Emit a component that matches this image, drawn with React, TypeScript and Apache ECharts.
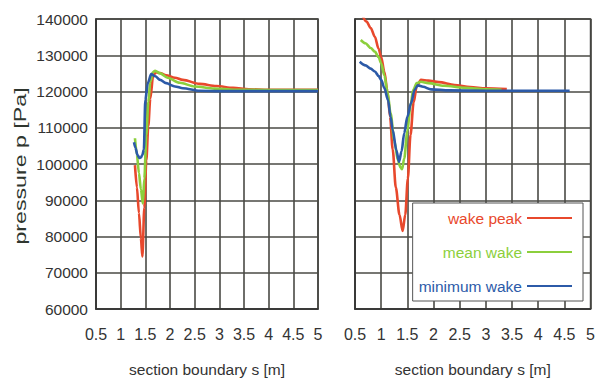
import React, { useEffect, useRef } from "react";
import * as echarts from "echarts";

// ---- tick labels / axis info ----
const xTicksMin = 0.5;
const xTicksMax = 5;
const xTickStep = 0.5;
const yMin = 60000;
const yMax = 140000;
const yStep = 10000;

const seriesNames = ["wake peak", "mean wake", "minimum wake"];

// ---- left panel ----
const leftPeakS = [1.29, 1.33, 1.37, 1.41, 1.44, 1.48, 1.52, 1.56, 1.6, 1.66, 1.72, 1.8, 1.92, 2.1, 2.26, 2.6, 2.94, 3.28, 3.6, 4.0, 5.0];
const leftPeakP = [99700, 93500, 86500, 79500, 74500, 88000, 101000, 110500, 118000, 124500, 125300, 125100, 124500, 123800, 123200, 122100, 121500, 121000, 120600, 120500, 120500];

const leftMeanS = [1.29, 1.33, 1.37, 1.41, 1.45, 1.48, 1.52, 1.56, 1.6, 1.65, 1.7, 1.8, 1.95, 2.2, 2.5, 2.9, 3.3, 4.0, 5.0];
const leftMeanP = [107100, 102500, 97500, 93000, 89100, 96000, 108000, 117000, 122500, 125300, 125700, 125000, 123800, 122400, 121400, 120800, 120500, 120400, 120400];

const leftMinS = [1.27, 1.3, 1.34, 1.38, 1.41, 1.44, 1.47, 1.5, 1.55, 1.62, 1.7, 1.8, 1.92, 2.1, 2.26, 2.6, 3.0, 4.0, 5.0];
const leftMinP = [106000, 104500, 102500, 101700, 101800, 102500, 104000, 117700, 122300, 124800, 124200, 123200, 122300, 121400, 120900, 120200, 120100, 120100, 120100];

// ---- right panel ----
const rightPeakS = [0.64, 0.72, 0.8, 0.88, 0.95, 1.0, 1.06, 1.12, 1.17, 1.22, 1.28, 1.35, 1.41, 1.46, 1.51, 1.56, 1.62, 1.68, 1.76, 1.9, 2.1, 2.4, 2.7, 3.0, 3.4];
const rightPeakP = [141000, 139300, 137500, 135100, 131800, 129600, 125500, 120000, 113000, 104000, 93500, 86000, 81500, 86000, 96000, 108000, 117000, 121500, 123200, 123000, 122600, 121800, 121200, 120900, 120700];

const rightMeanS = [0.61, 0.7, 0.8, 0.88, 0.95, 1.0, 1.06, 1.12, 1.18, 1.25, 1.32, 1.37, 1.4, 1.44, 1.5, 1.56, 1.61, 1.68, 1.76, 1.9, 2.2, 2.6, 3.0, 3.3];
const rightMeanP = [134200, 133300, 132000, 131000, 129500, 127800, 124500, 120000, 114000, 106500, 101000, 99000, 98600, 101500, 109000, 116000, 120400, 122300, 122700, 122300, 121600, 121000, 120600, 120500];

const rightMinS = [0.59, 0.7, 0.8, 0.88, 0.95, 1.0, 1.06, 1.13, 1.18, 1.22, 1.29, 1.34, 1.39, 1.44, 1.5, 1.57, 1.64, 1.7, 1.8, 1.95, 2.3, 3.0, 4.0, 4.6];
const rightMinP = [128200, 127200, 126300, 125500, 124300, 123200, 121000, 117700, 113000, 109400, 103800, 100600, 103500, 108500, 113000, 116800, 120500, 121700, 121300, 120600, 120300, 120200, 120200, 120200];

const COLORS = ["#e8482c", "#8ccf3c", "#2c5aa8"];
const FONT = "'Liberation Sans', Arial, sans-serif";
const GRID_COLOR = "#4a4a45";

function pairs(s: number[], p: number[]) {
  return s.map((v, i) => [v, p[i]]);
}

export default function App() {
  const ref = useRef<HTMLDivElement>(null);

  useEffect(() => {
    if (!ref.current) return;
    const chart = echarts.init(ref.current, null, { renderer: "svg" });

    const xAxisBase = (gridIndex: number) => ({
      type: "value",
      gridIndex,
      min: xTicksMin,
      max: xTicksMax,
      interval: xTickStep,
      name: "section boundary s [m]",
      nameLocation: "middle",
      nameGap: 52,
      nameTextStyle: { fontFamily: FONT, fontSize: 15.5, color: "#333" },
      axisLine: { show: true, lineStyle: { color: "#333", width: 1.5 } },
      axisTick: { show: false },
      axisLabel: { fontFamily: FONT, fontSize: 16, color: "#333", margin: 17 },
      splitLine: { show: true, lineStyle: { color: GRID_COLOR, width: 1.6 } },
    });

    const yAxisBase = (gridIndex: number, showLabels: boolean) => ({
      type: "value",
      gridIndex,
      min: yMin,
      max: yMax,
      interval: yStep,
      axisLine: { show: true, lineStyle: { color: "#333", width: 1.5 } },
      axisTick: { show: false },
      axisLabel: {
        show: showLabels,
        fontFamily: FONT,
        fontSize: 15.5,
        color: "#333",
        margin: 8,
        formatter: (v: number) => String(v),
      },
      splitLine: { show: true, lineStyle: { color: GRID_COLOR, width: 1.6 } },
    });

    const lineSeries = (name: string, idx: number, data: number[][], color: string) => ({
      type: "line",
      name,
      xAxisIndex: idx,
      yAxisIndex: idx,
      data,
      showSymbol: false,
      symbol: "none",
      smooth: 0.3,
      smoothMonotone: "x",
      lineStyle: { color, width: 2.6 },
      itemStyle: { color },
      clip: true,
    });

    chart.setOption({
      animation: false,
      backgroundColor: "#ffffff",
      grid: [
        { left: 96, top: 19, width: 222, height: 291, show: true, borderColor: "#333", borderWidth: 1.5, backgroundColor: "#fff" },
        { left: 355, top: 19, width: 237, height: 291, show: true, borderColor: "#333", borderWidth: 1.5, backgroundColor: "#fff" },
      ],
      xAxis: [xAxisBase(0), xAxisBase(1)],
      yAxis: [yAxisBase(0, true), yAxisBase(1, false)],
      legend: {
        orient: "vertical",
        align: "right",
        right: 15,
        top: 203,
        itemWidth: 45,
        itemHeight: 14,
        itemGap: 18,
        padding: [7, 10, 7, 6],
        backgroundColor: "#ffffff",
        borderColor: "#555",
        borderWidth: 1,
        borderRadius: 0,
        itemStyle: { opacity: 0 },
        textStyle: { fontFamily: FONT, fontSize: 15.5 },
        data: seriesNames.map((n, i) => ({ name: n, textStyle: { color: COLORS[i] } })),
      },
      graphic: [
        {
          type: "text",
          x: 20,
          y: 166,
          rotation: Math.PI / 2,
          scaleX: 1.45,
          style: {
            text: "pressure p [Pa]",
            fontFamily: FONT,
            fontSize: 16,
            fill: "#2f362f",
            align: "center",
            verticalAlign: "middle",
          },
        },
      ],
      series: [
        lineSeries(seriesNames[0], 0, pairs(leftPeakS, leftPeakP), COLORS[0]),
        lineSeries(seriesNames[1], 0, pairs(leftMeanS, leftMeanP), COLORS[1]),
        lineSeries(seriesNames[2], 0, pairs(leftMinS, leftMinP), COLORS[2]),
        lineSeries(seriesNames[0], 1, pairs(rightPeakS, rightPeakP), COLORS[0]),
        lineSeries(seriesNames[1], 1, pairs(rightMeanS, rightMeanP), COLORS[1]),
        lineSeries(seriesNames[2], 1, pairs(rightMinS, rightMinP), COLORS[2]),
      ],
    });

    return () => {
      chart.dispose();
    };
  }, []);

  return (
    <div
      ref={ref}
      style={{ position: "fixed", left: 0, top: 0, width: 598, height: 382, background: "#fff" }}
    />
  );
}
